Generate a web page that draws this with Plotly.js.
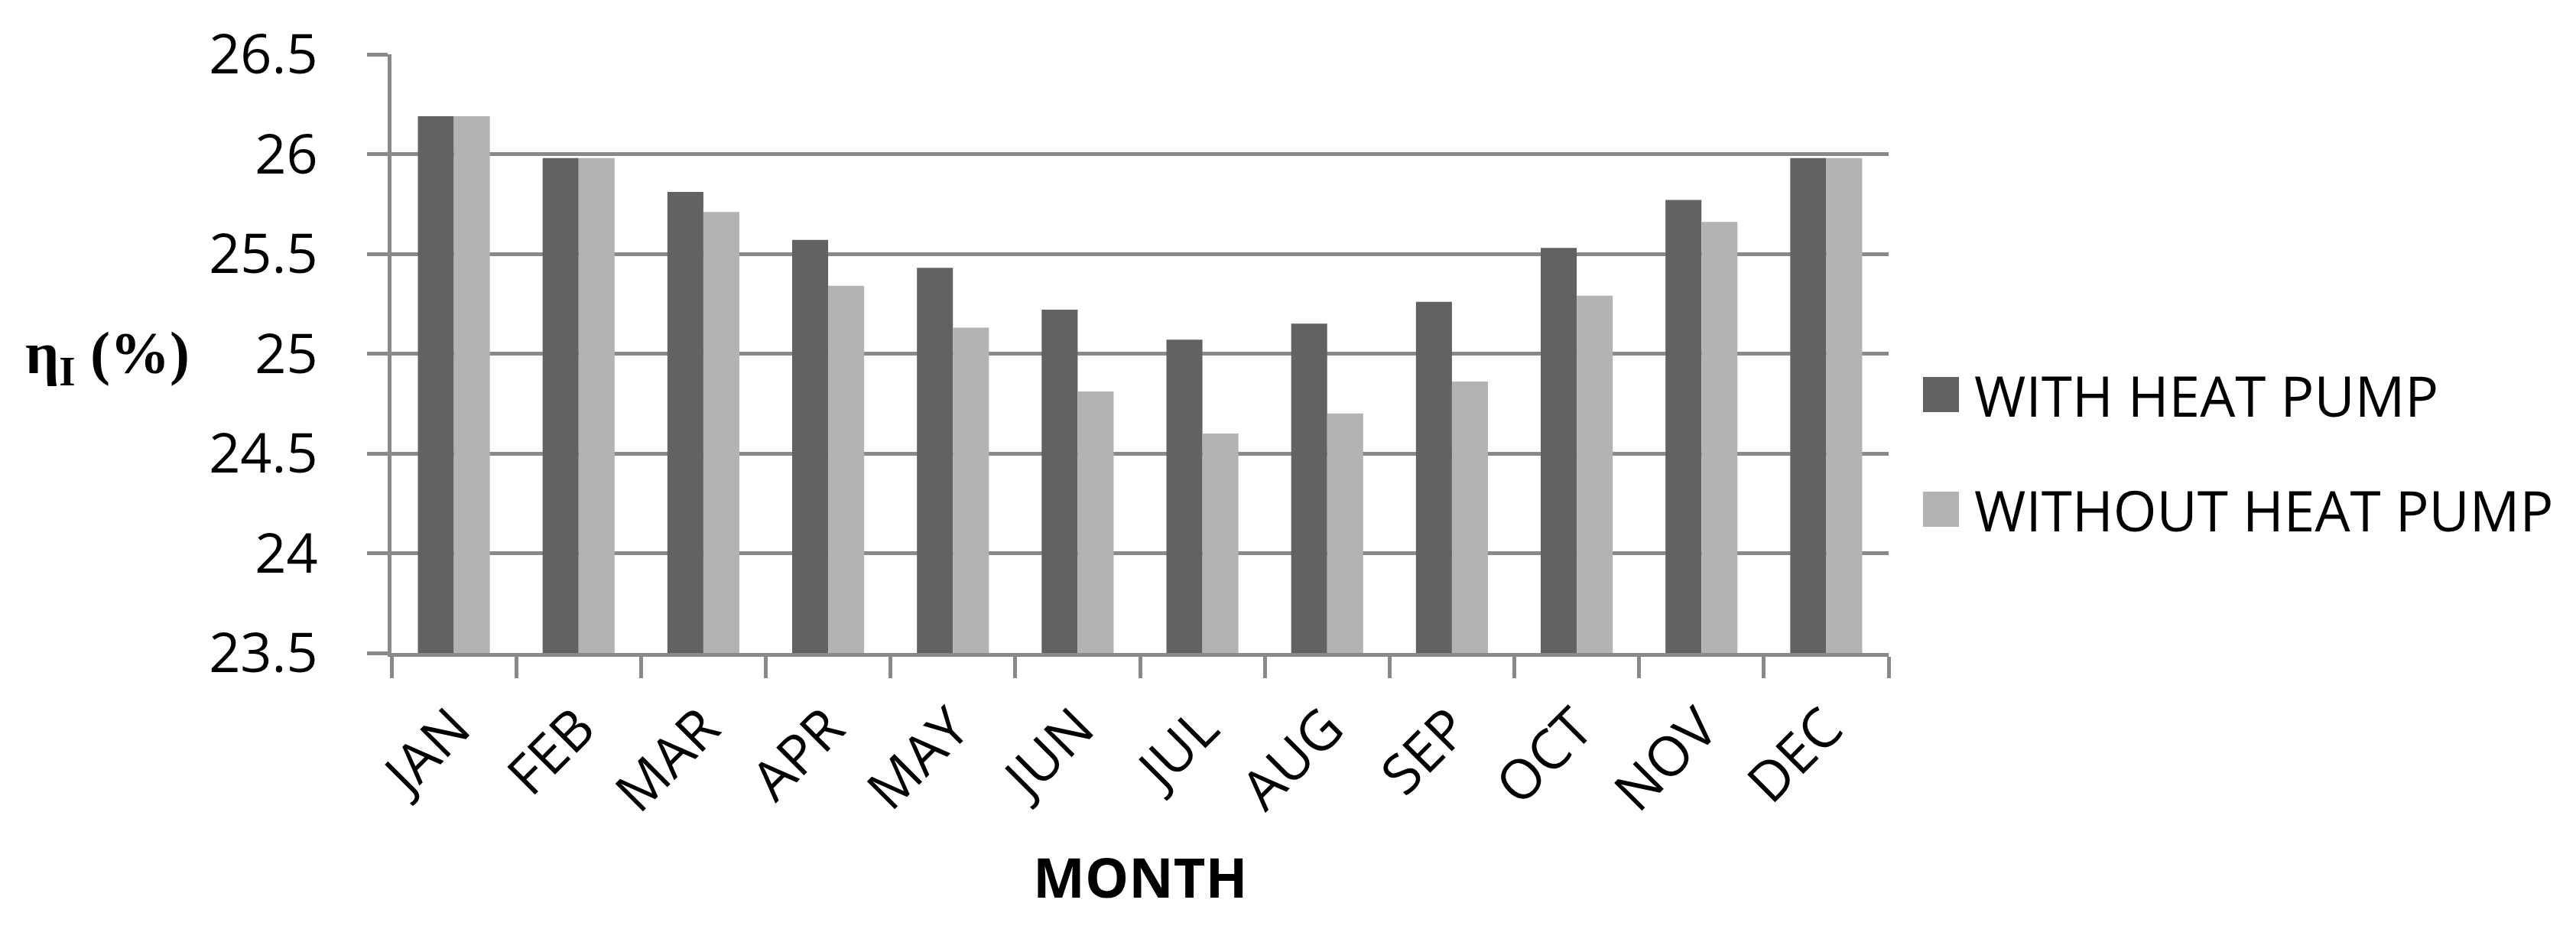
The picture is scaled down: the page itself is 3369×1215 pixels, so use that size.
<!DOCTYPE html>
<html>
<head>
<meta charset="utf-8">
<script src="https://cdn.plot.ly/plotly-3.0.1.min.js"></script>
<style>
  body { margin: 0; background: #fff; }
  #plot { width: 3369px; height: 1215px; }
</style>
</head>
<body>
<div id="plot"></div>
<script>
// monthly efficiency
let months = ['JAN', 'FEB', 'MAR', 'APR', 'MAY', 'JUN', 'JUL', 'AUG', 'SEP', 'OCT', 'NOV', 'DEC']
let withPump = [26.19, 25.98, 25.81, 25.57, 25.43, 25.22, 25.07, 25.15, 25.26, 25.53, 25.77, 25.98]
let withoutPump = [26.19, 25.98, 25.71, 25.34, 25.13, 24.81, 24.60, 24.70, 24.86, 25.29, 25.66, 25.98]
let seriesNames = ['WITH HEAT PUMP', 'WITHOUT HEAT PUMP']
let seriesColors = ['#626262', '#b3b3b3']

// plot box in pixels
let W = 3369, H = 1215
let box = { l: 512, r: 2470, t: 71, b: 854 }

// pixel -> paper coords
function px(x) { return (x - box.l) / (box.r - box.l) }
function py(y) { return (box.b - y) / (box.b - box.t) }

let gridGrey = '#898989'
let font = 'Open Sans, sans-serif'

let traces = [withPump, withoutPump].map(function (vals, i) {
    return {
        x: months,
        y: vals,
        name: seriesNames[i],
        type: 'bar',
        marker: { color: seriesColors[i], line: { width: 0 } },
        showlegend: false
    }
})

// legend drawn by hand so the swatches can be big like the original
let shapes = []
let annotations = []
let legendRows = [516, 666]
seriesNames.forEach(function (name, i) {
    let cy = legendRows[i]
    shapes.push({
        type: 'rect', xref: 'paper', yref: 'paper',
        x0: px(2515), x1: px(2562), y0: py(cy + 23), y1: py(cy - 23),
        fillcolor: seriesColors[i], line: { width: 0 }
    })
    annotations.push({
        xref: 'paper', yref: 'paper', x: px(2580), y: py(cy),
        xanchor: 'left', yanchor: 'middle', showarrow: false,
        text: name, font: { family: font, size: 73, color: '#000' }
    })
})

// axis titles
annotations.push({
    xref: 'paper', yref: 'paper', x: px(1491), y: py(1146),
    xanchor: 'center', yanchor: 'middle', showarrow: false,
    text: '<b>MONTH</b>', font: { family: font, size: 72, color: '#000' }
})
annotations.push({
    xref: 'paper', yref: 'paper', x: px(140), y: py(467),
    xanchor: 'center', yanchor: 'middle', showarrow: false,
    text: '<b>η<sub>I</sub> (%)</b>',
    font: { family: 'Liberation Serif, serif', size: 78, color: '#000' }
})

let layout = {
    width: W,
    height: H,
    margin: { l: box.l, r: W - box.r, t: box.t, b: H - box.b, pad: 0 },
    paper_bgcolor: '#fff',
    plot_bgcolor: '#fff',
    barmode: 'group',
    bargap: 0.423,
    bargroupgap: 0,
    font: { family: font, size: 72, color: '#000' },
    xaxis: {
        type: 'category',
        tickangle: -45,
        tickson: 'boundaries',
        ticks: 'outside',
        ticklen: 28,
        tickwidth: 5,
        tickcolor: gridGrey,
        showline: true,
        linecolor: gridGrey,
        linewidth: 5,
        showgrid: false,
        ticklabelstandoff: 22,
        tickfont: { family: font, size: 72, color: '#000' },
        automargin: false
    },
    yaxis: {
        range: [23.5, 26.5],
        dtick: 0.5,
        tick0: 23.5,
        ticks: 'outside',
        ticklen: 27,
        tickwidth: 5,
        tickcolor: gridGrey,
        showline: true,
        linecolor: gridGrey,
        linewidth: 5,
        gridcolor: gridGrey,
        gridwidth: 5,
        zeroline: false,
        ticklabelstandoff: 50,
        tickfont: { family: font, size: 72, color: '#000' },
        automargin: false
    },
    shapes: shapes,
    annotations: annotations
}

Plotly.newPlot('plot', traces, layout, { staticPlot: true })
</script>
</body>
</html>
